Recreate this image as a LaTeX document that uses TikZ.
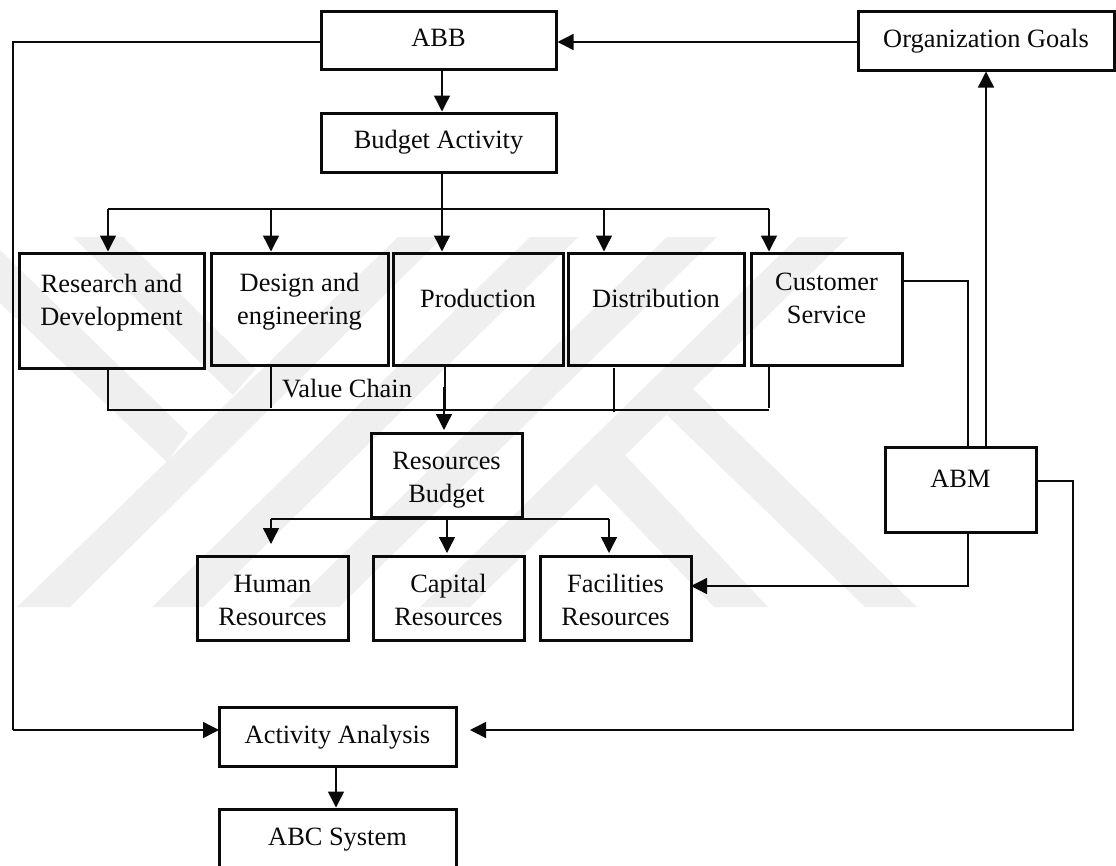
\documentclass[tikz,border=0pt]{standalone}
\usepackage{fontspec}
\setmainfont{Liberation Serif}
\usetikzlibrary{arrows.meta}
\definecolor{wm}{HTML}{EFEFEF}
\definecolor{ink}{HTML}{0A0A0A}
\tikzset{
  boxstyle/.style={draw=ink,line width=3pt,inner sep=0pt,outer sep=0pt,text=ink},
  conn/.style={draw=ink,line width=1.4pt},
  arr/.style={conn,-{Triangle[length=16pt,width=16pt]},shorten >=1.5pt},
  mark wm/.style={fill=wm,draw=none}
}
\newcommand\bnode[7]{%
  \node[boxstyle] (#1) at ({(#2+#4)/2},{(#3+#5)/2})
    {\parbox[c][\dimexpr#5pt-#3pt\relax][t]{\dimexpr#4pt-#2pt\relax}{\centering\rule{0pt}{#6pt}#7}};}
\begin{document}
\begin{tikzpicture}[x=1pt,y=-1pt,font=\fontsize{26.4}{33.5}\selectfont]
\path[use as bounding box] (0,0) rectangle (1116,865);
\clip (0,0) rectangle (1116,865);
\fill[white] (0,0) rectangle (1116,865);
% watermark
\fill[mark wm] (398,237) -- (443,237) -- (70,607) -- (17,607) -- cycle;
\fill[mark wm] (530,237) -- (578,237) -- (203,607) -- (152,607) -- cycle;
\fill[mark wm] (667,237) -- (717,237) -- (339,607) -- (289,607) -- cycle;
\fill[mark wm] (798,237) -- (848,237) -- (470,607) -- (420,607) -- cycle;
\fill[mark wm] (0,250) -- (188,433) -- (167,462) -- (0,303) -- cycle;
\fill[mark wm] (73,237) -- (123,237) -- (256,369) -- (233,395) -- cycle;
\fill[mark wm] (692,388) -- (917,607) -- (865,607) -- (667,415) -- cycle;
\fill[mark wm] (625,455) -- (768,607) -- (714,607) -- (595,483) -- cycle;
% boxes
\bnode{abb}{321}{11}{556}{69}{35}{ABB}
\bnode{budget}{321}{113}{556}{172}{35}{Budget Activity}
\bnode{org}{858}{11}{1114}{70}{36}{Organization Goals}
\bnode{rd}{19}{253}{204}{368}{39}{Research and\\Development}
\bnode{design}{211}{253}{388}{365}{38}{Design and\\engineering}
\bnode{prod}{393}{253}{563}{365}{54}{Production}
\bnode{dist}{568}{253}{744}{365}{54}{Distribution}
\bnode{cust}{751}{253}{902}{365}{37}{Customer\\Service}
\bnode{res}{371}{433}{522}{517}{36}{Resources\\Budget}
\bnode{human}{197}{556}{348}{640}{36}{Human\\Resources}
\bnode{capital}{373}{556}{524}{640}{36}{Capital\\Resources}
\bnode{fac}{540}{556}{691}{640}{36}{Facilities\\Resources}
\bnode{abm}{885}{447}{1036}{532}{40}{ABM}
\bnode{act}{219}{707}{456}{766}{36}{Activity Analysis}
\bnode{abc}{219}{809}{456}{872}{36}{ABC System}
\node[anchor=base west,inner sep=0pt,text=ink] (vc) at (282,397) {Value Chain};
% coordinates
\coordinate (xA) at (108,0);
\coordinate (xB) at (271,0);
\coordinate (xC) at (442,0);
\coordinate (xD) at (604,0);
\coordinate (xE) at (769,0);
\coordinate (xL) at (13,0);
\coordinate (xS) at (968,0);
\coordinate (xU) at (986,0);
\coordinate (xR) at (1073,0);
\coordinate (xP) at (445,0);
\coordinate (xQ) at (444,0);
\coordinate (xF) at (614,0);
\coordinate (xH) at (447,0);
\coordinate (xG) at (609,0);
\coordinate (xT) at (336,0);
\coordinate (yTop) at (0,42);
\coordinate (yRow) at (0,209);
\coordinate (yBus) at (0,410);
\coordinate (yRes) at (0,519);
\coordinate (yCust) at (0,281);
\coordinate (yAbm) at (0,481);
\coordinate (yFac) at (0,586);
\coordinate (yAct) at (0,730);
\coordinate (tipH) at (271,544);
\coordinate (tipC) at (447,553);
\coordinate (tipG) at (609,553);
\coordinate (tipA) at (470,730);
\coordinate (tipP) at (444,430);
\coordinate (endB) at (271,408);
\coordinate (endE) at (769,408);
\coordinate (endFt) at (614,368);
\coordinate (endFb) at (614,412);
\coordinate (midQ) at (444,387);
% top connectors
\draw[arr] (org.west |- yTop) -- (abb.east |- yTop);
\draw[arr] (xC |- abb.south) -- (xC |- budget.north);
\draw[conn] (abb.west |- yTop) -- (xL |- yTop) -- (xL |- yAct);
\draw[arr,shorten >=0pt] (xL |- yAct) -- (act.west |- yAct);
% row to value chain
\draw[conn] (xA |- yRow) -- (xE |- yRow);
\draw[arr] (xC |- budget.south) -- (xC |- prod.north);
\draw[arr] (xA |- yRow) -- (xA |- rd.north);
\draw[arr] (xB |- yRow) -- (xB |- design.north);
\draw[arr] (xD |- yRow) -- (xD |- dist.north);
\draw[arr] (xE |- yRow) -- (xE |- cust.north);
% bus
\draw[conn] (xA |- rd.south) -- (xA |- yBus) -- (xE |- yBus);
\draw[conn] (xB |- design.south) -- (endB);
\draw[conn] (xE |- cust.south) -- (endE);
\draw[conn] (endFt) -- (endFb);
\draw[conn] (xP |- prod.south) -- (xP |- yBus);
\draw[arr,shorten >=0pt] (midQ) -- (tipP);
% resources
\draw[conn] (xB |- yRes) -- (xG |- yRes);
\draw[arr,shorten >=0pt] (xB |- yRes) -- (tipH);
\draw[arr,shorten >=0pt] (xH |- res.south) -- (tipC);
\draw[arr,shorten >=0pt] (xG |- yRes) -- (tipG);
% right side
\draw[conn] (cust.east |- yCust) -- (xS |- yCust) -- (xS |- abm.north);
\draw[arr] (xU |- abm.north) -- (xU |- org.south);
\draw[arr,shorten >=0pt] (xS |- abm.south) -- (xS |- yFac) -- (fac.east |- yFac);
\draw[arr,shorten >=0pt] (abm.east |- yAbm) -- (xR |- yAbm) -- (xR |- yAct) -- (tipA);
\draw[arr] (xT |- act.south) -- (xT |- abc.north);
\end{tikzpicture}
\end{document}
